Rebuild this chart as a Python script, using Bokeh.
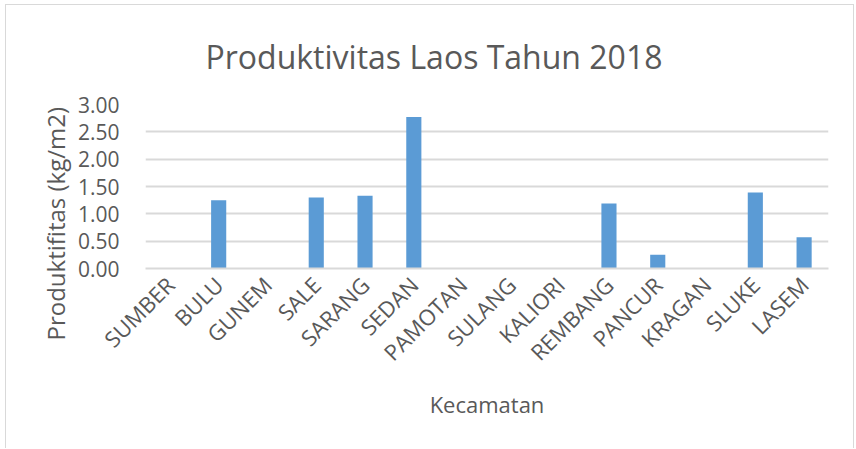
import math
from bokeh.plotting import figure
from bokeh.models import FactorRange, Range1d, Title, NumeralTickFormatter, FixedTicker, ColumnDataSource
from bokeh.embed import file_html
from bokeh.resources import INLINE

kecamatan = ["SUMBER", "BULU", "GUNEM", "SALE", "SARANG", "SEDAN", "PAMOTAN",
             "SULANG", "KALIORI", "REMBANG", "PANCUR", "KRAGAN", "SLUKE", "LASEM"]
produktivitas = [0.0, 1.25, 0.0, 1.30, 1.33, 2.77, 0.0,
                 0.0, 0.0, 1.19, 0.25, 0.0, 1.39, 0.57]
y_ticks = [0.0, 0.5, 1.0, 1.5, 2.0, 2.5, 3.0]

title_text = "Produktivitas Laos Tahun 2018"
y_title = "Produktifitas (kg/m2)"
x_title = "Kecamatan"

FONT = "Open Sans"
TXT = "#595959"
GRID = "#d9d9d9"

src = ColumnDataSource(dict(k=kecamatan, v=produktivitas))

p = figure(
    x_range=FactorRange(factors=kecamatan, range_padding=0),
    y_range=Range1d(0, 3),
    width=849, height=444,
    min_border_left=139, min_border_right=27,
    min_border_top=99, min_border_bottom=181,
    output_backend="svg", toolbar_location=None,
)
p.outline_line_color = None
p.background_fill_color = "white"
p.border_fill_color = "white"
p.styles = {"border-left": "1px solid #d9d9d9", "border-top": "1px solid #d9d9d9",
            "border-right": "1px solid #d9d9d9",
            "margin-left": "5px", "margin-top": "4px"}

p.vbar(x="k", top="v", width=0.31, source=src, fill_color="#5b9bd5", line_color=None)

p.xgrid.grid_line_color = None
p.ygrid.grid_line_color = GRID
p.ygrid.grid_line_width = 2

p.yaxis.ticker = FixedTicker(ticks=y_ticks)
p.yaxis.formatter = NumeralTickFormatter(format="0.00")
p.yaxis.axis_line_color = None
p.yaxis.major_tick_line_color = None
p.yaxis.minor_tick_line_color = None
p.yaxis.major_label_standoff = 20
p.yaxis.major_label_text_font = FONT
p.yaxis.major_label_text_font_size = "21px"
p.yaxis.major_label_text_color = TXT

p.xaxis.axis_line_color = GRID
p.xaxis.axis_line_width = 2
p.xaxis.major_tick_line_color = None
p.xaxis.minor_tick_line_color = None
p.xaxis.major_label_orientation = math.pi / 4
p.xaxis.major_label_standoff = 6
p.xaxis.major_label_text_font = FONT
p.xaxis.major_label_text_font_size = "22px"
p.xaxis.major_label_text_color = TXT
p.xaxis.axis_label = x_title
p.xaxis.axis_label_text_font = FONT
p.xaxis.axis_label_text_font_size = "22px"
p.xaxis.axis_label_text_font_style = "normal"
p.xaxis.axis_label_text_color = TXT
p.xaxis.axis_label_standoff = 9

p.title.text = title_text
p.title.align = "left"
p.title.offset = 60
p.title.standoff = 53
p.title.text_font = FONT
p.title.text_font_size = "32px"
p.title.text_font_style = "normal"
p.title.text_color = TXT

p.add_layout(Title(text=y_title, align="left", offset=-72, standoff=6,
                   text_font=FONT, text_font_size="24px", text_font_style="normal",
                   text_color=TXT), "left")

open("out.html", "w").write(file_html(p, INLINE))
